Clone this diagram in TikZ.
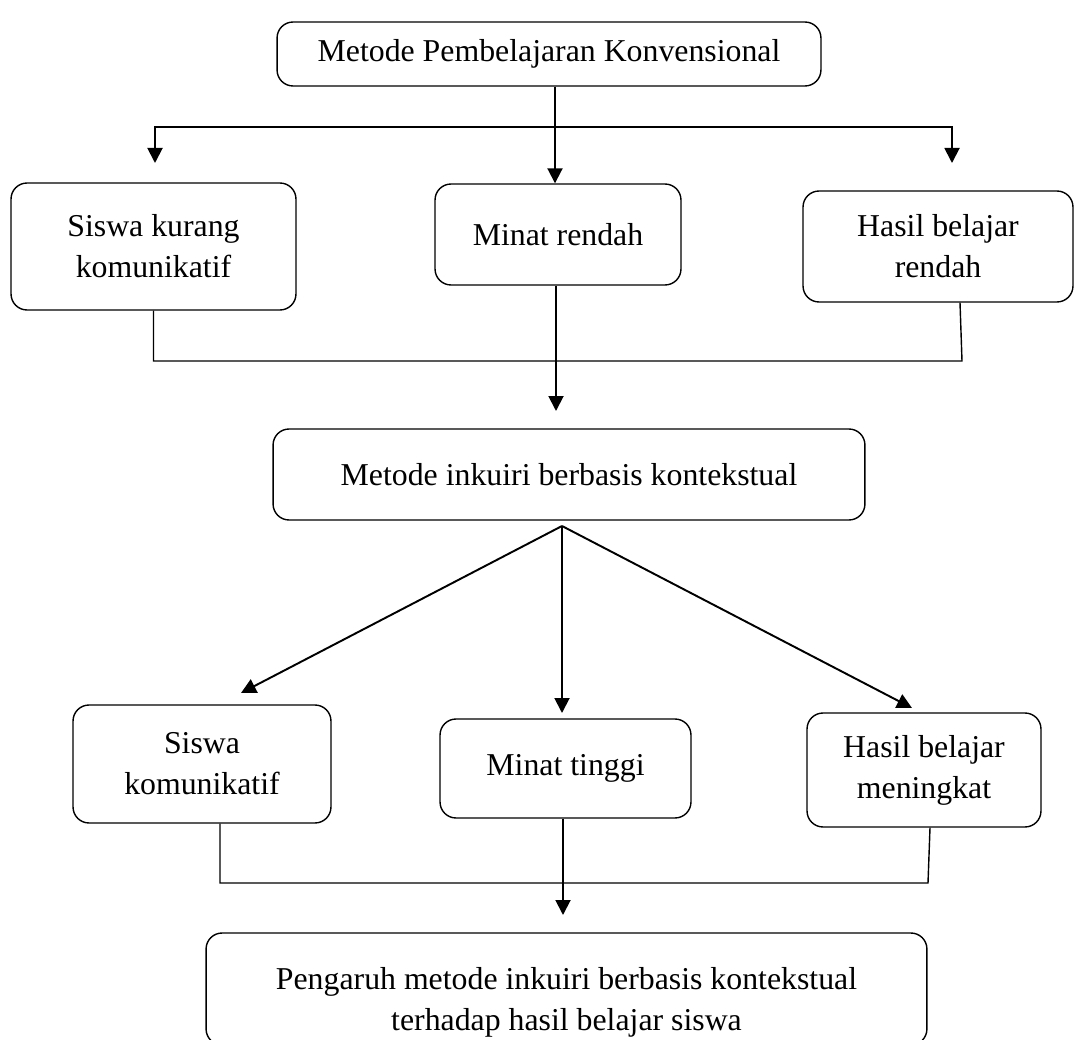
\documentclass[tikz,border=0pt]{standalone}
\usepackage{fontspec}
\setmainfont{Liberation Serif}
\usetikzlibrary{arrows.meta,calc}
\tikzset{
  box/.style={draw, rounded corners=0.32cm, line width=0.8pt, align=center, inner sep=0pt},
  ln/.style={line width=0.8pt},
  arr/.style={line width=1.1pt, -{Triangle[length=0.3cm, width=0.3cm]}}}

\begin{document}
\begin{tikzpicture}[x=0.02cm, y=-0.02cm, font={\fontsize{18.1}{23.3}\selectfont}]
\useasboundingbox (0,0) rectangle (1075,1040);
\node[box, minimum width=10.88cm, minimum height=1.28cm] (kon) at (549,54) {Metode Pembelajaran Konvensional};
\node[box, minimum width=5.7cm, minimum height=2.54cm] (sk) at (153.5,246.5) {Siswa kurang\\komunikatif};
\node[box, minimum width=4.92cm, minimum height=2.02cm] (mr) at (558,234.5) {Minat rendah};
\node[box, minimum width=5.4cm, minimum height=2.22cm] (hr) at (938,246.5) {Hasil belajar\\rendah};
\node[box, minimum width=11.84cm, minimum height=1.82cm] (ink) at (569,474.5) {Metode inkuiri berbasis kontekstual};
\node[box, minimum width=5.16cm, minimum height=2.36cm] (sko) at (202,764) {Siswa\\komunikatif};
\node[box, minimum width=5.02cm, minimum height=1.98cm] (mt) at (565.5,768.5) {Minat tinggi};
\node[box, minimum width=4.68cm, minimum height=2.28cm] (hm) at (924,770) {Hasil belajar\\meningkat};
\node[box, minimum width=14.42cm, minimum height=2.24cm, text height=51pt] (pg) at (566.5,989) {Pengaruh metode inkuiri berbasis kontekstual\\terhadap hasil belajar siswa};
\coordinate (j1) at (555,127);
\coordinate (e1) at (155,163);
\coordinate (e3) at (952,163);
\draw[arr] (kon.south -| j1) -- (mr.north -| j1);
\draw[arr] (j1) -| (e1);
\draw[arr] (j1) -| (e3);
\coordinate (j2) at (556,361);
\coordinate (c2) at (962,361);
\coordinate (e4) at (556,411);
\draw[ln] (sk.south) |- (c2) -- ($(hr.south)+(22,0)$);
\draw[arr] (mr.south -| j2) -- (e4);
\coordinate (ap) at (562,526);
\coordinate (e5) at (241,693);
\coordinate (e6) at (562,713);
\coordinate (e7) at (912,708);
\foreach \e in {e5,e6,e7} \draw[arr] (ap) -- (\e);
\coordinate (c4) at (928,883);
\coordinate (e8) at (563,915);
\draw[ln] ($(sko.south)+(18,0)$) |- (c4) -- ($(hm.south)+(6,0)$);
\draw[arr] (mt.south -| e8) -- (e8);
\end{tikzpicture}
\end{document}
